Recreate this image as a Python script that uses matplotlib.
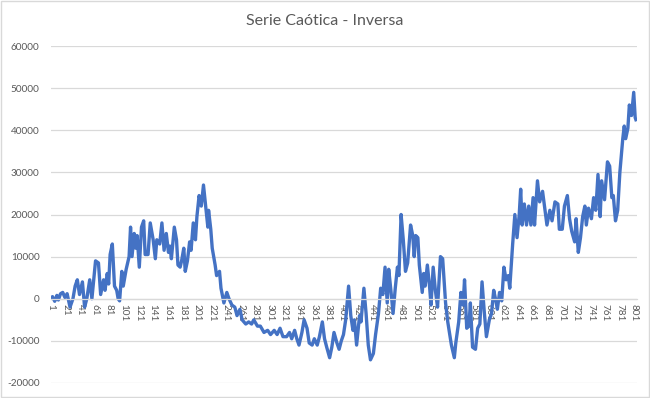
import numpy as np
import matplotlib
matplotlib.use("Agg")
import matplotlib.pyplot as plt
from matplotlib.patches import Rectangle

# values at the visible turning points (category index, value)
point_idx = [1, 3, 6, 9, 11, 14, 17, 20, 23, 27, 31, 34, 37, 40, 44, 47, 50, 54, 57, 62,
             66, 69, 73, 75, 78, 80, 82, 85, 88, 91, 93, 95, 98, 100, 104, 108, 110, 112, 115, 117,
             119, 122, 125, 128, 130, 134, 137, 141, 144, 146, 150, 153, 156, 159, 162, 164, 166, 170, 173, 175,
             178, 180, 183, 185, 188, 191, 193, 196, 199, 201, 204, 207, 210, 213, 216, 217, 220, 222, 226, 228,
             232, 234, 238, 242, 245, 249, 253, 256, 260, 263, 268, 272, 276, 279, 284, 288, 293, 298, 302, 307,
             311, 315, 319, 324, 328, 331, 335, 338, 341, 345, 348, 352, 355, 359, 362, 366, 369, 373, 376, 379,
             383, 386, 389, 393, 396, 399, 402, 405, 409, 412, 415, 417, 420, 424, 426, 430, 433, 436, 439, 443,
             446, 450, 453, 456, 459, 462, 464, 467, 470, 473, 476, 478, 481, 484, 487, 490, 494, 497, 499, 501,
             504, 506, 510, 512, 514, 517, 520, 522, 525, 528, 531, 535, 538, 542, 545, 550, 554, 556, 560, 563,
             566, 568, 571, 574, 576, 579, 583, 586, 589, 592, 595, 598, 602, 605, 608, 611, 613, 616, 619, 622,
             625, 628, 630, 634, 637, 640, 643, 645, 647, 650, 653, 656, 659, 662, 664, 668, 671, 675, 678, 681,
             685, 688, 692, 696, 698, 702, 705, 709, 712, 715, 719, 721, 724, 727, 730, 733, 735, 738, 742, 745,
             748, 751, 754, 756, 760, 764, 767, 770, 772, 775, 778, 781, 785, 787, 789, 792, 794, 797, 800, 802,
             803]
point_val = [200, 500, -600, 800, -300, 1200, 1500, 300, 1200, -2000, 0, 3000, 4500, 1000, 4000, -2000, 0, 4500, 0, 9000,
             8500, 1000, 4500, 2000, 6000, 3500, 10500, 13000, 3000, 2000, 0, -500, 6500, 3000, 7000, 10000, 17000, 10000, 15500, 12000,
             15000, 7500, 17000, 18500, 10500, 10500, 18000, 14000, 9500, 14000, 13000, 18000, 11500, 15500, 11000, 12500, 9500, 17000, 14000, 8000,
             7500, 9000, 12000, 6500, 9000, 13500, 11500, 18000, 14000, 19500, 24500, 22000, 27000, 22000, 17000, 21000, 16500, 12000, 8000, 5500,
             6500, 2500, -1000, 1500, 0, -1500, -2000, -4000, -2500, -5000, -6000, -5500, -6000, -5000, -6500, -6500, -8000, -7500, -8500, -7500,
             -8500, -7000, -9000, -9000, -8000, -9500, -7500, -9500, -11000, -8000, -5000, -7000, -10500, -11000, -9500, -11000, -9000, -5500, -9500, -11500,
             -14000, -11500, -8000, -10500, -12000, -10000, -8500, -5000, 3000, -4000, -7500, -5000, -11000, -4000, -5500, 2500, -3500, -11000, -14500, -13000,
             -8500, -3500, 2500, 1000, 7500, -1000, 7000, 2000, -3500, 2500, 7500, 5500, 20000, 14000, 6500, 8500, 17500, 15000, 10000, 15000,
             14500, 8000, 1500, 6000, 3000, 8000, 3000, -1500, 7500, 2000, -2000, 10000, 9500, -1000, -5500, -11000, -14000, -10500, -5500, 1500,
             -1500, 4500, -7000, -6500, -1000, -11500, -12000, -7000, -6000, 4000, -3000, -9000, -5000, -3500, 2000, -500, -2500, 1500, -500, 7500,
             4500, 5500, 2500, 13000, 20000, 14500, 20000, 26000, 17500, 22500, 17500, 22000, 17500, 24000, 17500, 28000, 23000, 25500, 21500, 17500,
             21000, 18500, 23000, 22500, 16500, 16500, 22000, 24500, 19000, 16000, 13500, 19000, 11000, 14500, 19500, 22000, 17500, 21500, 19000, 24000,
             21000, 29500, 19500, 28000, 23500, 32500, 31500, 24000, 24500, 18500, 21000, 30000, 38000, 41000, 38000, 40500, 46000, 43500, 49000, 43000,
             42500]

n_categories = 804
x_tick_labels = [str(k) for k in range(1, 802, 20)]
y_ticks = [-20000, -10000, 0, 10000, 20000, 30000, 40000, 50000, 60000]
title = "Serie Caótica - Inversa"

plt.rcParams['font.family'] = ['Lato', 'DejaVu Sans']
text_gray = '#595959'
grid_gray = '#D9D9D9'

fig = plt.figure(figsize=(6.5, 3.98), dpi=100)
ax = fig.add_axes([0.078, 0.0377, 0.902, 0.8467])

# category axis crosses at 0, like Excel (set before the tick labels: this resets ticks)
for s in ['top', 'right', 'left']:
    ax.spines[s].set_visible(False)
ax.spines['bottom'].set_position(('data', 0))
ax.spines['bottom'].set_color(grid_gray)
ax.spines['bottom'].set_linewidth(0.9)

ax.plot(point_idx, point_val, color='#4472C4', linewidth=2.4, solid_joinstyle='round')

ax.set_xlim(0.5, n_categories + 0.5)
ax.set_ylim(-20000, 60000)
ax.set_yticks(y_ticks)
ax.set_yticklabels([str(v) for v in y_ticks], color=text_gray, fontsize=7.2)
ax.set_xticks([int(s) for s in x_tick_labels])
ax.set_xticklabels(x_tick_labels, rotation=270, color=text_gray, fontsize=7.2, va='top', ha='center')
ax.tick_params(axis='both', length=0)
ax.tick_params(axis='y', pad=8)
ax.tick_params(axis='x', pad=4)

ax.grid(axis='y', color=grid_gray, linewidth=0.9)
ax.set_axisbelow(True)

fig.text(0.5, 1 - 20.7 / 398, title, ha='center', va='center', fontsize=11.5, color=text_gray)
fig.patches.append(Rectangle((0.002, 0.003), 0.996, 0.994, transform=fig.transFigure,
                             fill=False, edgecolor=grid_gray, linewidth=1))

fig.savefig('out.png', dpi=100)
